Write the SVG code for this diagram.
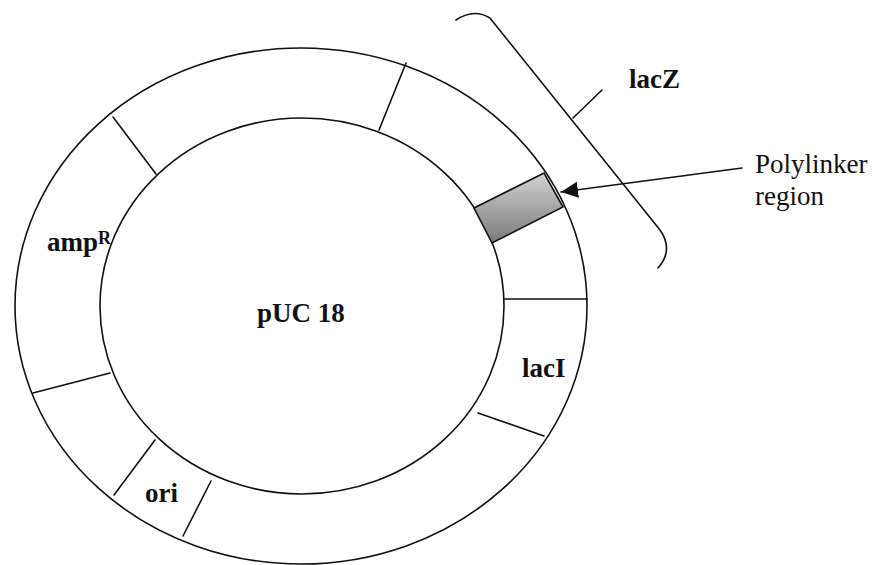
<svg xmlns="http://www.w3.org/2000/svg" width="873" height="565" viewBox="0 0 873 565">
<style>
.ln{fill:none;stroke:#111;stroke-width:1.6;stroke-linecap:round}
.lb{font-family:"Liberation Serif","Times New Roman",serif;font-weight:bold;font-size:27px;fill:#111}
.lr{font-family:"Liberation Serif","Times New Roman",serif;font-size:27px;fill:#111}
</style>
<defs>
<linearGradient id="gr" x1="0" y1="0" x2="0" y2="1">
<stop offset="0" stop-color="#d2d2d4"/>
<stop offset="1" stop-color="#7a7a7a"/>
</linearGradient>
<marker id="ah" markerWidth="18" markerHeight="18" refX="17" refY="9" orient="auto" markerUnits="userSpaceOnUse">
<path d="M0,1 L17,9 L0,17 Z" fill="#111"/>
</marker>
</defs>
<rect width="873" height="565" fill="#fff"/>
<g id="plasmid">
<ellipse class="ln" cx="301" cy="306" rx="286" ry="258"/>
<ellipse class="ln" cx="302" cy="306" rx="202" ry="188"/>
</g>
<g id="dividers">
<line class="ln" x1="113" y1="117" x2="156" y2="174"/>
<line class="ln" x1="406" y1="63" x2="379" y2="130"/>
<line class="ln" x1="504" y1="299" x2="587" y2="299"/>
<line class="ln" x1="478" y1="413" x2="544" y2="436"/>
<line class="ln" x1="33" y1="393" x2="110" y2="373"/>
<line class="ln" x1="114" y1="495" x2="155" y2="440"/>
<line class="ln" x1="211" y1="481" x2="183" y2="536"/>
</g>
<g id="polylinker">
<polygon points="474,208 544,173 563,207 492,243" fill="url(#gr)" stroke="#111" stroke-width="1.6"/>
</g>
<g id="lacZ-bracket">
<path class="ln" d="M456,20 Q474,8 490,18 L660,230 Q674,250 658,268"/>
<line class="ln" x1="573" y1="118" x2="602" y2="90"/>
</g>
<g id="connectors">
<line class="ln" x1="742" y1="168" x2="561" y2="192" marker-end="url(#ah)"/>
</g>
<g id="labels">
<text class="lb" x="629" y="88">lacZ</text>
<text class="lr" x="755" y="173">Polylinker</text>
<text class="lr" x="755" y="205">region</text>
<text class="lb" x="47" y="251">amp<tspan font-size="18" dy="-7">R</tspan></text>
<text class="lb" x="257" y="322">pUC 18</text>
<text class="lb" x="522" y="377">lacI</text>
<text class="lb" x="145" y="502">ori</text>
</g>
</svg>
